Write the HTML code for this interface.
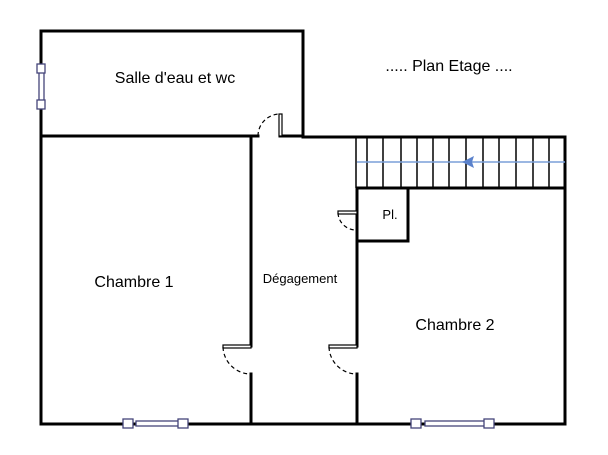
<!DOCTYPE html><html><head><style>body{margin:0;background:#fff}svg{display:block}text{font-family:"Liberation Sans",sans-serif;fill:#000}</style></head><body>
<svg width="608" height="455" viewBox="0 0 608 455">
<g stroke="#000" stroke-width="3" fill="none" stroke-linecap="square">
<path d="M41 31H303V136"/>
<path d="M41 31V424H565V137H303"/>
<path d="M41 136H258M280 136H303"/>
<path d="M251 136V346M251 374V424"/>
<path d="M357 188V212M357 230V346M357 374V424"/>
<path d="M357 188H565"/>
<path d="M357 188V241H408V188"/>
</g>
<g stroke="#000" stroke-width="1.5">
<path d="M356 137V188M367 137V188M383 137V188M401 137V188M417 137V188M433 137V188M449 137V188M466 137V188M483 137V188M499 137V188M516 137V188M533 137V188M549 137V188"/>
</g>
<line x1="357" y1="162" x2="565" y2="162" stroke="#7a9fd8" stroke-width="1.5"/>
<polygon points="462,162 474,156 472,162 474,168" fill="#5b82cc"/>
<!-- doors -->
<g fill="#fff" stroke="#000" stroke-width="1.2">
<rect x="279" y="114" width="3" height="22"/>
<rect x="223" y="345" width="28" height="3"/>
<rect x="329" y="345" width="28" height="3"/>
<rect x="338" y="211" width="19" height="3"/>
</g>
<g fill="none" stroke="#000" stroke-width="1.2" stroke-dasharray="4,3">
<path d="M258 136A22 22 0 0 1 280 114"/>
<path d="M223 347A28 28 0 0 0 251 374"/>
<path d="M329 347A28 28 0 0 0 357 374"/>
<path d="M338 213A18 18 0 0 0 357 230"/>
</g>
<!-- windows -->
<g fill="#fff" stroke="#44447a" stroke-width="1.3">
<rect x="39" y="72" width="5" height="30"/>
<rect x="136" y="421" width="44" height="5"/>
<rect x="425" y="421" width="60" height="5"/>
<rect x="37" y="64" width="8" height="9"/>
<rect x="37" y="100" width="8" height="9"/>
<rect x="123" y="419" width="10" height="9"/>
<rect x="178" y="419" width="10" height="9"/>
<rect x="411" y="419" width="10" height="9"/>
<rect x="484" y="419" width="10" height="9"/>
</g>
<text x="175" y="83" font-size="16" text-anchor="middle">Salle d'eau et wc</text>
<text x="449" y="71" font-size="16" text-anchor="middle">..... Plan Etage ....</text>
<text x="134" y="287" font-size="16" text-anchor="middle">Chambre 1</text>
<text x="300" y="283" font-size="13" text-anchor="middle">Dégagement</text>
<text x="390" y="219" font-size="13" text-anchor="middle">Pl.</text>
<text x="455" y="330" font-size="16" text-anchor="middle">Chambre 2</text>
</svg></body></html>
